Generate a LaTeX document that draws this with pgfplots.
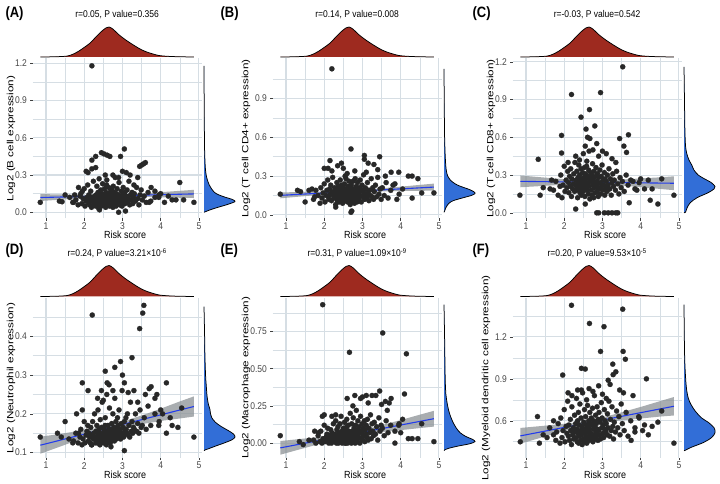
\documentclass[border=0pt]{standalone}
\usepackage{pgfplots}
\pgfplotsset{compat=1.18}
\usepackage{pgfplotstable}
\usepackage{fontspec}
\setmainfont{Liberation Sans}
\definecolor{gridc}{RGB}{214,222,228}
\definecolor{ptc}{RGB}{40,40,40}
\definecolor{bandc}{RGB}{140,146,150}
\definecolor{linec}{RGB}{35,60,235}
\definecolor{redd}{RGB}{158,42,31}
\definecolor{blued}{RGB}{50,110,215}

\pgfplotstableread{
x a b c d e f
1.72 0.08 0.12 0.18 0.13 0.02 0.50
1.78 0.10 0.19 0.25 0.15 0.00 0.46
1.84 0.06 0.15 0.14 0.125 0.05 0.58
1.89 0.13 0.09 0.21 0.14 0.01 0.44
1.91 0.15 0.21 0.30 0.16 0.08 0.62
1.94 0.07 0.13 0.12 0.12 0.00 0.48
1.97 0.11 0.17 0.22 0.135 0.03 0.53
2.00 0.19 0.24 0.37 0.18 0.12 0.68
2.02 0.05 0.10 0.17 0.125 0.01 0.45
2.05 0.09 0.15 0.26 0.145 0.04 0.56
2.07 0.12 0.19 0.20 0.155 0.06 0.51
2.09 0.22 0.27 0.33 0.17 0.10 0.74
2.11 0.08 0.14 0.24 0.13 0.02 0.49
2.12 0.14 0.12 0.16 0.15 0.00 0.57
2.14 0.06 0.20 0.29 0.14 0.05 0.46
2.16 0.10 0.16 0.21 0.125 0.03 0.61
2.17 0.17 0.23 0.35 0.165 0.09 0.53
2.19 0.04 0.11 0.13 0.12 0.00 0.43
2.20 0.12 0.18 0.27 0.145 0.07 0.70
2.22 0.09 0.29 0.19 0.18 0.02 0.50
2.24 0.25 0.15 0.23 0.135 0.13 0.55
2.25 0.07 0.13 0.31 0.15 0.04 0.47
2.27 0.13 0.21 0.17 0.20 0.01 0.64
2.28 0.11 0.17 0.40 0.14 0.06 0.52
2.30 0.05 0.08 0.22 0.125 0.15 0.58
2.31 0.14 0.19 0.26 0.155 0.03 0.48
2.32 0.08 0.14 0.18 0.13 0.00 0.76
2.33 0.21 0.25 0.33 0.17 0.09 0.54
2.34 0.10 0.11 0.21 0.14 0.05 0.45
2.35 0.06 0.16 0.12 0.125 0.02 0.60
2.36 0.16 0.22 0.28 0.21 0.11 0.51
2.37 0.12 0.13 0.24 0.145 0.00 0.66
2.38 0.03 0.18 0.38 0.135 0.04 0.44
2.39 0.27 0.10 0.19 0.16 0.07 0.57
2.40 0.09 0.20 0.30 0.15 0.01 0.49
2.41 0.13 0.15 0.16 0.12 0.13 0.72
2.42 0.07 0.27 0.25 0.185 0.03 0.53
2.43 0.18 0.17 0.22 0.14 0.05 0.46
2.44 0.11 0.12 0.35 0.13 0.18 0.62
2.45 0.05 0.23 0.14 0.165 0.02 0.50
2.46 0.15 0.14 0.27 0.145 0.08 0.56
2.47 0.09 0.19 0.20 0.23 0.00 0.43
2.48 0.23 0.09 0.32 0.135 0.06 0.80
2.49 0.12 0.16 0.23 0.15 0.04 0.52
2.50 0.08 0.21 0.17 0.14 0.10 0.47
2.51 0.14 0.13 0.28 0.125 0.01 0.59
2.52 0.06 0.17 0.22 0.16 0.05 0.54
2.53 0.19 0.24 0.36 0.145 0.14 0.68
2.54 0.10 0.11 0.13 0.13 0.02 0.45
2.55 0.12 0.18 0.26 0.19 0.07 0.51
2.56 0.04 0.15 0.31 0.14 0.00 0.63
2.57 0.16 0.28 0.20 0.155 0.03 0.49
2.58 0.09 0.12 0.24 0.12 0.09 0.57
2.59 0.26 0.20 0.41 0.25 0.16 0.44
2.60 0.11 0.16 0.18 0.145 0.04 0.55
2.61 0.07 0.10 0.29 0.135 0.00 0.71
2.62 0.14 0.22 0.23 0.17 0.06 0.52
2.63 0.08 0.14 0.15 0.15 0.12 0.48
2.64 0.20 0.19 0.34 0.13 0.02 0.60
2.65 0.12 0.26 0.21 0.16 0.08 0.46
2.66 0.05 0.13 0.27 0.215 0.01 0.54
2.67 0.15 0.17 0.11 0.14 0.05 0.66
2.68 0.10 0.08 0.25 0.125 0.20 0.50
2.69 0.17 0.21 0.32 0.155 0.03 0.58
2.515 0.13 0.15 0.19 0.14 0.07 0.53
2.545 0.07 0.30 0.24 0.17 0.00 0.47
2.585 0.22 0.12 0.37 0.135 0.11 0.75
2.625 0.09 0.18 0.22 0.15 0.04 0.56
2.70 0.13 0.16 0.26 0.16 0.06 0.51
2.71 0.06 0.23 0.18 0.13 0.00 0.62
2.72 0.18 0.11 0.30 0.175 0.13 0.48
2.73 0.10 0.19 0.14 0.145 0.03 0.57
2.74 0.14 0.14 0.39 0.14 0.08 0.69
2.75 0.04 0.26 0.22 0.20 0.01 0.45
2.76 0.21 0.17 0.27 0.135 0.17 0.54
2.77 0.08 0.12 0.12 0.155 0.05 0.60
2.78 0.12 0.20 0.33 0.165 0.10 0.50
2.79 0.16 0.09 0.20 0.13 0.02 0.78
2.80 0.07 0.15 0.24 0.24 0.07 0.56
2.81 0.28 0.28 0.16 0.15 0.00 0.47
2.82 0.11 0.18 0.29 0.14 0.12 0.64
2.83 0.05 0.13 0.36 0.18 0.04 0.52
2.84 0.15 0.22 0.21 0.135 0.22 0.58
2.85 0.09 0.16 0.25 0.16 0.03 0.49
2.86 0.19 0.10 0.17 0.145 0.09 0.70
2.87 0.12 0.25 0.31 0.19 0.01 0.54
2.88 0.08 0.14 0.23 0.14 0.15 0.46
2.89 0.14 0.19 0.13 0.17 0.06 0.61
2.90 0.10 0.17 0.28 0.15 0.04 0.53
2.91 0.24 0.12 0.19 0.21 0.11 0.66
2.93 0.06 0.21 0.34 0.14 0.00 0.50
2.94 0.13 0.27 0.24 0.16 0.08 0.59
2.95 0.09 0.15 0.15 0.135 0.18 0.47
2.97 0.17 0.10 0.29 0.175 0.03 0.73
2.98 0.11 0.19 0.21 0.15 0.07 0.55
2.99 0.05 0.23 0.38 0.26 0.13 0.62
3.01 0.14 0.14 0.18 0.145 0.02 0.51
3.02 0.20 0.18 0.26 0.165 0.10 0.57
3.03 0.08 0.31 0.22 0.14 0.05 0.48
3.05 0.12 0.16 0.32 0.18 0.15 0.68
3.06 0.16 0.12 0.14 0.155 0.01 0.54
3.07 0.07 0.21 0.27 0.15 0.09 0.60
3.09 0.10 0.16 0.20 0.19 0.06 0.52
3.10 0.13 0.20 0.25 0.16 0.12 0.58
3.12 0.18 0.13 0.17 0.15 0.04 0.50
3.13 0.08 0.25 0.30 0.20 0.16 0.65
3.15 0.11 0.17 0.22 0.145 0.02 0.55
3.17 0.25 0.11 0.35 0.17 0.10 0.74
3.19 0.06 0.19 0.19 0.14 0.07 0.49
3.21 0.14 0.15 0.27 0.23 0.19 0.61
3.23 0.10 0.28 0.14 0.155 0.03 0.53
3.25 0.16 0.14 0.24 0.18 0.13 0.70
3.27 0.07 0.21 0.31 0.15 0.08 0.56
3.29 0.12 0.12 0.21 0.165 0.05 0.47
3.31 0.15 0.18 0.26 0.16 0.14 0.59
3.34 0.09 0.23 0.18 0.20 0.06 0.52
3.37 0.20 0.14 0.33 0.155 0.11 0.67
3.40 0.11 0.29 0.23 0.175 0.02 0.55
3.43 0.06 0.16 0.15 0.15 0.17 0.63
3.46 0.14 0.20 0.28 0.21 0.08 0.50
3.49 0.18 0.12 0.20 0.165 0.12 0.72
3.52 0.10 0.21 0.25 0.17 0.10 0.58
3.57 0.13 0.15 0.17 0.19 0.05 0.53
3.62 0.08 0.25 0.30 0.16 0.15 0.66
3.67 0.16 0.13 0.22 0.22 0.07 0.49
3.74 0.09 0.19 0.26 0.17 0.12 0.60
3.85 0.12 0.24 0.19 0.20 0.08 0.55
3.96 0.14 0.16 0.24 0.18 0.13 0.62
}\cluster

\pgfplotstableread{
x d
0.85 0.0
1.1 0.004
1.3 0.01
1.55 0.03
1.7 0.09
1.85 0.19
2.0 0.32
2.15 0.46
2.3 0.66
2.45 0.85
2.57 0.97
2.65 1.0
2.75 0.93
2.9 0.75
3.05 0.60
3.2 0.47
3.35 0.35
3.5 0.24
3.65 0.16
3.8 0.10
3.95 0.05
4.1 0.03
4.3 0.015
4.6 0.005
4.87 0.0
}\topd

\pgfplotstableread{
y d
0.0 0.0
0.005 0.05
0.02 0.2
0.04 0.45
0.06 0.72
0.08 0.95
0.09 1.0
0.105 0.9
0.12 0.7
0.14 0.48
0.16 0.34
0.19 0.24
0.22 0.17
0.26 0.11
0.3 0.07
0.35 0.045
0.42 0.03
0.5 0.02
0.7 0.01
0.9 0.005
1.18 0.0
}\rA

\pgfplotstableread{
y d
0.02 0.0
0.03 0.02
0.06 0.07
0.09 0.16
0.11 0.3
0.13 0.58
0.15 0.88
0.165 1.0
0.18 0.96
0.2 0.78
0.22 0.54
0.24 0.36
0.27 0.2
0.3 0.12
0.35 0.07
0.45 0.04
0.6 0.02
0.8 0.01
1.13 0.0
}\rB

\pgfplotstableread{
y d
0.0 0.0
0.005 0.05
0.04 0.1
0.08 0.2
0.12 0.42
0.16 0.78
0.19 0.97
0.21 1.0
0.24 0.88
0.27 0.66
0.3 0.46
0.34 0.32
0.38 0.25
0.42 0.16
0.47 0.09
0.53 0.05
0.65 0.03
0.9 0.015
1.16 0.0
}\rC

\pgfplotstableread{
y d
0.105 0.0
0.107 0.04
0.11 0.15
0.117 0.38
0.125 0.66
0.133 0.9
0.14 1.0
0.148 0.95
0.157 0.78
0.167 0.56
0.178 0.37
0.19 0.25
0.2 0.21
0.212 0.19
0.225 0.14
0.245 0.1
0.27 0.075
0.3 0.05
0.35 0.03
0.4 0.02
0.477 0.0
}\rD

\pgfplotstableread{
y d
-0.05 0.0
-0.045 0.03
-0.035 0.15
-0.02 0.45
-0.005 0.82
0.01 1.0
0.025 0.92
0.045 0.7
0.07 0.52
0.1 0.4
0.14 0.29
0.18 0.21
0.22 0.15
0.27 0.1
0.33 0.06
0.42 0.04
0.55 0.03
0.7 0.02
0.93 0.0
}\rE

\pgfplotstableread{
y d
0.386 0.0
0.39 0.05
0.41 0.23
0.445 0.63
0.48 0.89
0.515 1.0
0.55 0.97
0.586 0.8
0.62 0.57
0.67 0.36
0.715 0.23
0.76 0.14
0.83 0.08
0.93 0.045
1.04 0.023
1.2 0.01
1.43 0.0
}\rF

\pgfplotsset{
  mainax/.style={scale only axis, width=169pt, height=160pt, xmin=0.649, xmax=5.071, anchor=south west,
    axis lines*=left, axis line style={draw=none},
    xtick={1,2,3,4,5}, minor xtick={1.5,2.5,3.5,4.5},
    grid=both, major grid style={draw=gridc, line width=1.1pt}, minor grid style={draw=gridc, line width=0.55pt},
    tick align=outside, major tick length=2.2pt, minor tick length=0pt,
    tick style={draw=black!75, line width=0.5pt},
    tick label style={font=\fontsize{8.5}{9}\selectfont, text=black!72, yscale=1.15},
    xticklabel style={yshift=1.8pt},
    /pgf/number format/assume math mode=true, scaled ticks=false,
    xlabel={Risk score},
    xlabel style={at={(axis description cs:0.547,-0.103)}, anchor=center, font=\fontsize{9}{10}\selectfont, yscale=1.15},
    title style={at={(axis description cs:0.5,1.24)}, anchor=center, font=\fontsize{8.5}{9}\selectfont, yscale=1.15},
  },
  yprec/.style={yticklabel style={/pgf/number format/.cd, fixed, fixed zerofill, precision=#1}},
  ylab/.style={ylabel style={at={(axis description cs:#1,0.5)}, anchor=center, font=\fontsize{9}{10}\selectfont, xscale=1.3}},
  topdens/.style={scale only axis, width=169pt, height=30pt, anchor=south west, xmin=0.649, xmax=5.071, ymin=0, ymax=1, hide axis, clip=false},
  rightdens/.style={scale only axis, width=31pt, height=160pt, anchor=south west, xmin=0, xmax=1, hide axis, clip=false},
  pts/.style={only marks, mark=*, mark size=2.6pt, mark options={fill=ptc, draw=ptc, line width=0.2pt}},
  band/.style={fill=bandc, fill opacity=0.75, draw=none},
  regl/.style={draw=linec, line width=1.1pt},
  dred/.style={fill=redd, draw=black, line width=0.75pt, smooth, tension=0.5},
  dblue/.style={fill=blued, draw=black, line width=0.75pt, smooth, tension=0.5},
}

\begin{document}
\begin{tikzpicture}
\useasboundingbox (0pt,0pt) rectangle (720pt,484pt);

% ---------------- A ----------------
\begin{axis}[mainax, at={(32.6pt,265.5pt)}, ymin=-0.05, ymax=1.239,
  ytick={0,0.3,0.6,0.9,1.2}, minor ytick={0.15,0.45,0.75,1.05}, yprec=1, ylab=-0.128,
  ylabel={Log2 (B cell expression)}, title={r=0.05, P value=0.356}]
\addplot[pts] table[x=x,y=a]{\cluster};
\addplot[pts] coordinates {(0.85,0.08)(1.35,0.09)(1.42,0.085)(1.5,0.14)(1.62,0.12)(1.7,0.08)(1.75,0.14)(1.85,0.2)(1.95,0.17)(2.2,1.18)(2.05,0.33)(2.1,0.32)(2.2,0.35)(2.3,0.36)(2.2,0.42)(2.3,0.45)(2.45,0.48)(2.52,0.47)(2.6,0.46)(2.67,0.45)(2.95,0.45)(3.05,0.51)(2.55,0.3)(2.75,0.3)(2.9,0.28)(3.0,0.33)(3.1,0.32)(3.2,0.3)(3.45,0.37)(3.5,0.38)(3.55,0.39)(3.6,0.4)(3.4,0.28)(3.3,0.22)(2.9,0.0)(3.08,0.01)(2.4,0.02)(3.7,0.08)(3.75,0.2)(3.85,0.17)(3.95,0.12)(4.0,0.15)(4.1,0.08)(4.2,0.13)(4.3,0.1)(4.4,0.1)(4.5,0.24)(4.6,0.1)(4.87,0.08)};
\addplot[band] coordinates {(0.85,0.147)(1.3,0.144)(1.8,0.141)(2.3,0.139)(2.7,0.140)(3.1,0.145)(3.6,0.154)(4.1,0.164)(4.5,0.173)(4.87,0.181)(4.87,0.115)(4.5,0.117)(4.1,0.120)(3.6,0.124)(3.1,0.125)(2.7,0.124)(2.3,0.119)(1.8,0.111)(1.3,0.100)(0.85,0.091)};
\addplot[regl] coordinates {(0.85,0.119)(4.87,0.148)};
\end{axis}
\begin{axis}[topdens, at={(32.6pt,427pt)}]
\addplot[dred] table[x=x,y=d]{\topd};
\end{axis}
\begin{axis}[rightdens, at={(204pt,265.5pt)}, ymin=-0.05, ymax=1.239]
\addplot[dblue] table[x=d,y=y]{\rA};
\end{axis}

% ---------------- B ----------------
\begin{axis}[mainax, at={(272.6pt,265.5pt)}, ymin=-0.028, ymax=1.21,
  ytick={0,0.3,0.6,0.9}, minor ytick={0.15,0.45,0.75,1.05}, yprec=1, ylab=-0.157,
  ylabel={Log2 (T cell CD4+ expression)}, title={r=0.14, P value=0.008}]
\addplot[pts] table[x=x,y=b]{\cluster};
\addplot[pts] coordinates {(0.85,0.16)(1.3,0.19)(1.38,0.18)(1.5,0.1)(1.6,0.19)(1.68,0.2)(1.75,0.14)(2.2,1.13)(2.7,0.51)(3.05,0.46)(3.05,0.43)(3.45,0.45)(2.15,0.42)(2.35,0.38)(2.45,0.4)(3.15,0.4)(3.3,0.39)(2.0,0.36)(2.1,0.36)(2.2,0.34)(2.5,0.36)(2.8,0.34)(3.4,0.35)(3.6,0.3)(3.1,0.33)(2.6,0.32)(3.75,0.33)(3.95,0.33)(4.2,0.3)(4.3,0.3)(4.05,0.2)(4.3,0.13)(4.45,0.28)(4.55,0.17)(4.87,0.17)(3.8,0.23)(3.9,0.12)(2.7,0.02)(2.72,0.03)(2.3,0.06)};
\addplot[band] coordinates {(0.85,0.174)(1.3,0.176)(1.8,0.179)(2.3,0.182)(2.7,0.187)(3.1,0.195)(3.6,0.208)(4.1,0.221)(4.5,0.232)(4.87,0.242)(4.87,0.188)(4.5,0.186)(4.1,0.185)(3.6,0.182)(3.1,0.179)(2.7,0.173)(2.3,0.166)(1.8,0.153)(1.3,0.140)(0.85,0.128)};
\addplot[regl] coordinates {(0.85,0.151)(4.87,0.215)};
\end{axis}
\begin{axis}[topdens, at={(272.6pt,427pt)}]
\addplot[dred] table[x=x,y=d]{\topd};
\end{axis}
\begin{axis}[rightdens, at={(444pt,265.5pt)}, ymin=-0.028, ymax=1.21]
\addplot[dblue] table[x=d,y=y]{\rB};
\end{axis}

% ---------------- C ----------------
\begin{axis}[mainax, at={(512.6pt,265.5pt)}, ymin=-0.045, ymax=1.226,
  ytick={0,0.3,0.6,0.9,1.2}, minor ytick={0.15,0.45,0.75,1.05}, yprec=1, ylab=-0.128,
  ylabel={Log2 (T cell CD8+ expression)}, title={r=-0.03, P value=0.542}]
\addplot[pts] table[x=x,y=c]{\cluster};
\addplot[pts] coordinates {(3.53,1.16)(2.95,0.955)(2.19,0.94)(2.66,0.82)(2.44,0.76)(2.8,0.69)(2.57,0.665)(1.93,0.615)(2.61,0.6)(2.67,0.59)(3.68,0.62)(3.45,0.59)(3.56,0.53)(3.63,0.48)(1.93,0.475)(1.32,0.425)(0.84,0.14)(1.37,0.14)(1.45,0.2)(1.67,0.26)(1.63,0.19)(2.85,0.0)(2.9,0.0)(3.05,0.0)(3.15,0.0)(3.25,0.0)(3.35,0.0)(3.4,0.0)(2.3,0.03)(2.55,0.07)(3.8,0.25)(3.9,0.18)(4.0,0.27)(4.1,0.19)(4.25,0.1)(4.3,0.19)(4.45,0.07)(4.55,0.27)(4.87,0.14)(3.7,0.08)(4.2,0.26)(2.3,0.45)(2.5,0.47)(2.65,0.49)(2.75,0.5)(2.9,0.45)(3.0,0.49)(3.1,0.47)(3.25,0.43)(2.1,0.4)(2.4,0.42)(3.35,0.4)(2.55,0.53)(2.85,0.55)};
\addplot[band] coordinates {(0.85,0.297)(1.3,0.285)(1.8,0.272)(2.3,0.262)(2.7,0.256)(3.1,0.259)(3.6,0.266)(4.1,0.275)(4.5,0.282)(4.87,0.290)(4.87,0.180)(4.5,0.190)(4.1,0.201)(3.6,0.214)(3.1,0.225)(2.7,0.230)(2.3,0.228)(1.8,0.220)(1.3,0.211)(0.85,0.203)};
\addplot[regl] coordinates {(0.85,0.25)(4.87,0.235)};
\end{axis}
\begin{axis}[topdens, at={(512.6pt,427pt)}]
\addplot[dred] table[x=x,y=d]{\topd};
\end{axis}
\begin{axis}[rightdens, at={(684pt,265.5pt)}, ymin=-0.045, ymax=1.226]
\addplot[dblue] table[x=d,y=y]{\rC};
\end{axis}

% ---------------- D ----------------
\begin{axis}[mainax, at={(32.6pt,26pt)}, ymin=0.086, ymax=0.499,
  ytick={0.1,0.2,0.3,0.4}, minor ytick={0.15,0.25,0.35,0.45}, yprec=1, ylab=-0.128,
  ylabel={Log2 (Neutrophil expression)}, title={r=0.24, P value=3.21×10\textsuperscript{-6}}]
\addplot[pts] table[x=x,y=d]{\cluster};
\addplot[pts] coordinates {(2.21,0.455)(3.56,0.48)(3.53,0.46)(3.45,0.42)(3.25,0.345)(2.95,0.335)(2.8,0.32)(2.55,0.31)(3.0,0.3)(2.6,0.28)(2.65,0.275)(3.05,0.28)(1.95,0.28)(2.1,0.26)(2.45,0.26)(2.75,0.26)(3.15,0.255)(3.3,0.26)(3.7,0.265)(3.75,0.27)(3.6,0.25)(4.15,0.28)(3.9,0.25)(3.85,0.24)(2.35,0.24)(2.5,0.235)(3.4,0.23)(4.0,0.21)(4.05,0.2)(4.15,0.15)(4.25,0.19)(4.45,0.165)(4.55,0.215)(4.87,0.14)(4.3,0.17)(3.95,0.17)(0.85,0.14)(1.3,0.15)(1.4,0.14)(1.5,0.18)(1.6,0.135)(1.7,0.125)(1.8,0.2)(1.85,0.15)(1.95,0.21)(3.05,0.105)(2.7,0.115)(2.2,0.12)};
\addplot[band] coordinates {(0.85,0.141)(1.3,0.147)(1.8,0.155)(2.3,0.163)(2.7,0.171)(3.1,0.183)(3.6,0.199)(4.1,0.217)(4.5,0.232)(4.87,0.245)(4.87,0.193)(4.5,0.188)(4.1,0.183)(3.6,0.175)(3.1,0.167)(2.7,0.159)(2.3,0.147)(1.8,0.131)(1.3,0.113)(0.85,0.097)};
\addplot[regl] coordinates {(0.85,0.119)(4.87,0.219)};
\end{axis}
\begin{axis}[topdens, at={(32.6pt,187.5pt)}, height=31pt]
\addplot[dred] table[x=x,y=d]{\topd};
\end{axis}
\begin{axis}[rightdens, at={(204pt,26pt)}, ymin=0.086, ymax=0.499]
\addplot[dblue] table[x=d,y=y]{\rD};
\end{axis}

% ---------------- E ----------------
\begin{axis}[mainax, at={(272.6pt,26pt)}, ymin=-0.1, ymax=0.975,
  ytick={0,0.25,0.5,0.75}, minor ytick={0.125,0.375,0.625,0.875}, yprec=2, ylab=-0.157,
  ylabel={Log2 (Macrophage expression)}, title={r=0.31, P value=1.09×10\textsuperscript{-9}}]
\addplot[pts] table[x=x,y=e]{\cluster};
\addplot[pts] coordinates {(1.96,0.93)(3.53,0.74)(2.66,0.61)(4.15,0.6)(3.45,0.35)(3.35,0.32)(3.25,0.32)(3.1,0.32)(3.0,0.31)(2.8,0.32)(2.95,0.3)(2.6,0.3)(3.75,0.3)(4.1,0.33)(3.6,0.28)(2.75,0.25)(3.15,0.27)(3.7,0.27)(3.5,0.26)(3.65,0.22)(0.85,0.05)(1.35,0.01)(1.45,-0.01)(1.6,0.02)(1.75,0.08)(1.95,0.18)(1.85,0.07)(4.0,0.07)(4.2,0.03)(4.3,0.03)(4.45,0.03)(4.55,0.13)(4.87,0.01)(3.85,0.0)(4.05,0.16)(3.95,0.12)(2.0,0.19)(2.2,0.18)(2.3,0.19)};
\addplot[band] coordinates {(0.85,0.014)(1.3,0.026)(1.8,0.039)(2.3,0.055)(2.7,0.071)(3.1,0.094)(3.6,0.127)(4.1,0.162)(4.5,0.191)(4.87,0.217)(4.87,0.111)(4.5,0.101)(4.1,0.090)(3.6,0.077)(3.1,0.062)(2.7,0.045)(2.3,0.023)(1.8,-0.011)(1.3,-0.046)(0.85,-0.078)};
\addplot[regl] coordinates {(0.85,-0.032)(4.87,0.164)};
\end{axis}
\begin{axis}[topdens, at={(272.6pt,187.5pt)}, height=31pt]
\addplot[dred] table[x=x,y=d]{\topd};
\end{axis}
\begin{axis}[rightdens, at={(444pt,26pt)}, ymin=-0.1, ymax=0.975]
\addplot[dblue] table[x=d,y=y]{\rE};
\end{axis}

% ---------------- F ----------------
\begin{axis}[mainax, at={(512.6pt,26pt)}, ymin=0.334, ymax=1.478,
  ytick={0.6,0.9,1.2}, minor ytick={0.45,0.75,1.05,1.35}, yprec=1, ylab=-0.157,
  ylabel={Log2 (Myeloid dendritic cell expression)}, title={r=0.20, P value=9.53×10\textsuperscript{-5}}]
\addplot[pts] table[x=x,y=f]{\cluster};
\addplot[pts] coordinates {(2.19,1.426)(3.53,1.398)(2.66,1.296)(3.04,1.273)(2.95,1.096)(3.54,1.096)(3.6,1.04)(2.45,0.975)(2.55,0.97)(3.27,1.005)(3.35,0.95)(3.28,0.93)(3.15,0.89)(3.2,0.86)(1.96,0.927)(4.15,0.9)(3.45,0.82)(3.55,0.8)(3.8,0.78)(2.1,0.8)(2.2,0.78)(2.35,0.82)(2.45,0.82)(2.65,0.83)(2.75,0.81)(3.0,0.79)(2.9,0.85)(3.1,0.76)(0.85,0.45)(1.3,0.63)(1.35,0.44)(1.45,0.5)(1.55,0.48)(1.62,0.55)(1.72,0.6)(1.8,0.52)(3.85,0.52)(3.95,0.63)(4.05,0.53)(4.1,0.57)(4.2,0.5)(4.3,0.56)(4.45,0.59)(4.55,0.67)(4.87,0.44)(3.75,0.46)};
\addplot[band] coordinates {(0.85,0.549)(1.3,0.560)(1.8,0.573)(2.3,0.588)(2.7,0.606)(3.1,0.631)(3.6,0.668)(4.1,0.707)(4.5,0.740)(4.87,0.770)(4.87,0.638)(4.5,0.630)(4.1,0.619)(3.6,0.606)(3.1,0.591)(2.7,0.574)(2.3,0.548)(1.8,0.511)(1.3,0.472)(0.85,0.436)};
\addplot[regl] coordinates {(0.85,0.492)(4.87,0.704)};
\end{axis}
\begin{axis}[topdens, at={(512.6pt,187.5pt)}, height=31pt]
\addplot[dred] table[x=x,y=d]{\topd};
\end{axis}
\begin{axis}[rightdens, at={(684pt,26pt)}, ymin=0.334, ymax=1.478]
\addplot[dblue] table[x=d,y=y]{\rF};
\end{axis}

% panel letters
\node[anchor=west, font=\bfseries\fontsize{13}{14}\selectfont, yscale=1.15] at (2pt,470pt) {(A)};
\node[anchor=west, font=\bfseries\fontsize{13}{14}\selectfont, yscale=1.15] at (217pt,470pt) {(B)};
\node[anchor=west, font=\bfseries\fontsize{13}{14}\selectfont, yscale=1.15] at (469pt,470pt) {(C)};
\node[anchor=west, font=\bfseries\fontsize{13}{14}\selectfont, yscale=1.15] at (2pt,233pt) {(D)};
\node[anchor=west, font=\bfseries\fontsize{13}{14}\selectfont, yscale=1.15] at (217pt,233pt) {(E)};
\node[anchor=west, font=\bfseries\fontsize{13}{14}\selectfont, yscale=1.15] at (469pt,233pt) {(F)};
\end{tikzpicture}
\end{document}
